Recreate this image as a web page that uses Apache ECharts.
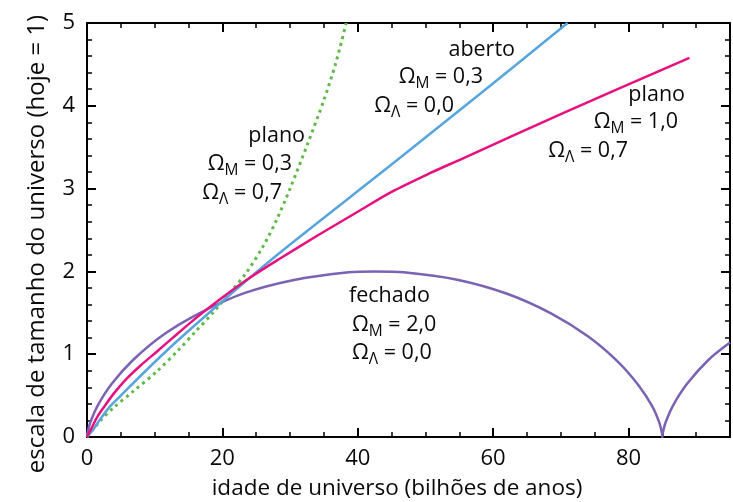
<!DOCTYPE html>
<html>
<head>
<meta charset="utf-8">
<script src="https://cdn.jsdelivr.net/npm/echarts@6/dist/echarts.min.js"></script>
<style>html,body{margin:0;padding:0;background:#fff}#c{width:733px;height:502px}</style>
</head>
<body>
<div id="c"></div>
<script>
// tick labels
const xTicks = [0, 20, 40, 60, 80];
const yTicks = [0, 1, 2, 3, 4, 5];
// series: [age (billion years), scale factor]
const fechado = [[0,0],[0.06,0.045],[0.48,0.175],[1.58,0.38],[3.63,0.64],[6.8,0.93],[11.18,1.23],[16.73,1.5],[23.33,1.74],[30.75,1.9],[38.68,1.99],[42.5,2.0],[46.78,1.99],[54.7,1.9],[62.07,1.73],[68.62,1.49],[74.11,1.21],[78.42,0.91],[81.53,0.62],[83.52,0.37],[84.57,0.17],[84.96,0.04],[85.0,0],[85.06,0.045],[85.48,0.175],[86.58,0.38],[88.63,0.64],[91.8,0.93],[95,1.14]];
const planoLambda = [[0,0],[1,0.1],[2,0.2],[4,0.36],[6.8,0.55],[10.3,0.79],[13.5,1.05],[16,1.27],[18.6,1.5],[21,1.73],[23.5,1.98],[26,2.3],[28,2.62],[30,3.0],[32.5,3.52],[35,4.07],[36.7,4.5],[38.3,5.0]];
const aberto = [[0,0],[1,0.1],[2,0.22],[3.4,0.37],[5,0.5],[8.3,0.77],[13.2,1.15],[20,1.64],[28.4,2.22],[45.6,3.33],[58,4.14],[71,5.0]];
const planoM = [[0,0],[0.5,0.08],[1.5,0.24],[2.4,0.35],[4,0.53],[5.8,0.7],[8,0.87],[10.3,1.03],[12.7,1.2],[16,1.43],[19.6,1.66],[24,1.92],[28.4,2.15],[34,2.43],[40,2.72],[45,2.96],[50.5,3.18],[55.4,3.36],[70,3.9],[89,4.58]];

const FF = '"Open Sans", "Noto Sans", sans-serif';
const INK = '#0a0a0a';
const chart = echarts.init(document.getElementById('c'));
const rich = {
  a: {fontSize: 21.5, fontFamily: FF, color: INK},
  b: {fontSize: 15.5, fontFamily: FF, color: INK, padding: [14, 0, 0, 0]}
};
function txt(s, x, y, align) {
  return {type: 'text', x: x, y: y, style: {text: s, rich: rich, fontSize: 21.5, fontFamily: FF, fill: INK, textAlign: align, textVerticalAlign: 'middle'}};
}
function mainAxis(extra) {
  return Object.assign({
    type: 'value',
    axisLine: {show: true, onZero: false, lineStyle: {color: '#000', width: 2}},
    axisTick: {show: true, inside: true, length: 9, lineStyle: {color: '#000', width: 2}},
    minorTick: {show: false},
    splitLine: {show: false}
  }, extra);
}
function minorAxis(extra) {
  return Object.assign({
    type: 'value',
    axisLine: {show: false, onZero: false},
    axisTick: {show: true, inside: true, length: 5, lineStyle: {color: '#000', width: 1.5}},
    axisLabel: {show: false},
    splitLine: {show: false}
  }, extra);
}
const xMax = 95, yMax = yTicks[yTicks.length - 1];
chart.setOption({
  animation: false,
  grid: {left: 87, right: 1, top: 23, bottom: 65, containLabel: false},
  xAxis: [
    mainAxis({min: xTicks[0], max: xMax, interval: 20, position: 'bottom',
      axisLabel: {fontSize: 22, fontFamily: FF, color: INK, margin: 11,
        formatter: v => xTicks.includes(v) ? String(v) : ''}}),
    mainAxis({min: xTicks[0], max: xMax, interval: 20, position: 'top', axisLabel: {show: false}}),
    minorAxis({min: xTicks[0], max: xMax, interval: 5, position: 'bottom'}),
    minorAxis({min: xTicks[0], max: xMax, interval: 5, position: 'top'})
  ],
  yAxis: [
    mainAxis({min: yTicks[0], max: yMax, interval: 1, position: 'left',
      axisLabel: {fontSize: 22, fontFamily: FF, color: INK, margin: 12}}),
    mainAxis({min: yTicks[0], max: yMax, interval: 1, position: 'right', axisLabel: {show: false}}),
    minorAxis({min: yTicks[0], max: yMax, interval: 0.2, position: 'left'}),
    minorAxis({min: yTicks[0], max: yMax, interval: 0.2, position: 'right'})
  ],
  series: [
    {type: 'line', data: fechado, showSymbol: false, smooth: 0.3, lineStyle: {color: '#7B62B2', width: 2.5}},
    {type: 'line', data: planoLambda, showSymbol: false, smooth: 0.3, lineStyle: {color: '#5FBA47', width: 3, type: [3, 4]}},
    {type: 'line', data: aberto, showSymbol: false, smooth: 0.3, lineStyle: {color: '#58A5DD', width: 2.5}},
    {type: 'line', data: planoM, showSymbol: false, smooth: 0.3, lineStyle: {color: '#E8107F', width: 2.5}}
  ],
  graphic: [
    {type: 'text', x: 397, y: 489, style: {text: 'idade de universo (bilhões de anos)', fontSize: 22.5, fontFamily: FF, fill: INK, textAlign: 'center', textVerticalAlign: 'middle'}},
    {type: 'text', x: 37, y: 244, rotation: Math.PI / 2, style: {text: 'escala de tamanho do universo (hoje = 1)', fontSize: 24, fontFamily: FF, fill: INK, textAlign: 'center', textVerticalAlign: 'middle'}},
    txt('plano', 305, 136, 'right'),
    txt('{a|Ω}{b|M}{a| = 0,3}', 292, 164, 'right'),
    txt('{a|Ω}{b|Λ}{a| = 0,7}', 282, 193, 'right'),
    txt('aberto', 515, 50, 'right'),
    txt('{a|Ω}{b|M}{a| = 0,3}', 483, 77, 'right'),
    txt('{a|Ω}{b|Λ}{a| = 0,0}', 454, 106, 'right'),
    txt('plano', 685, 95, 'right'),
    txt('{a|Ω}{b|M}{a| = 1,0}', 678, 122, 'right'),
    txt('{a|Ω}{b|Λ}{a| = 0,7}', 628, 151, 'right'),
    txt('fechado', 349, 296, 'left'),
    txt('{a|Ω}{b|M}{a| = 2,0}', 352, 325, 'left'),
    txt('{a|Ω}{b|Λ}{a| = 0,0}', 352, 353, 'left')
  ]
});
</script>
</body>
</html>
